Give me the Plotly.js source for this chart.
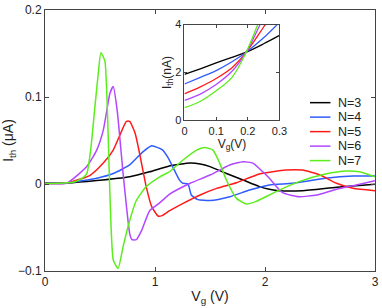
<!DOCTYPE html>
<html>
<head>
<meta charset="utf-8">
<script src="https://cdn.plot.ly/plotly-3.0.1.min.js"></script>
<style>html,body{margin:0;padding:0;background:#fff;}#chart{width:382px;height:308px;}</style>
</head>
<body>
<div id="chart"></div>
<script>
// Main panel: thermal current I_th (μA) vs gate voltage V_g (V)
const seriesNames = ["N=3", "N=4", "N=5", "N=6", "N=7"];
const seriesColors = ["#000000", "#2f5cff", "#ff1a1a", "#b247ff", "#5ced1c"];

const vgN3 = [0, 0.2, 0.47, 0.77, 0.95, 1.13, 1.32, 1.41, 1.5, 1.65, 1.8, 1.95, 2.04, 2.13, 2.34, 2.65, 3.0];
const ithN3 = [0.001, 0.0012, 0.004, 0.0084, 0.014, 0.0207, 0.024, 0.023, 0.020, 0.012, 0.0046, -0.003, -0.006, -0.0077, -0.0077, -0.0038, -0.0003];

const vgN4 = [0, 0.2, 0.47, 0.62, 0.77, 0.89, 0.97, 1.07, 1.12, 1.22, 1.25, 1.30, 1.33, 1.39, 1.5, 1.68, 1.86, 2.04, 2.25, 2.55, 2.8, 3.0];
const ithN4 = [0.0008, 0.0012, 0.0066, 0.012, 0.022, 0.037, 0.044, 0.039, 0.030, 0.005, 0.001, 0.0, -0.0126, -0.018, -0.019, -0.0146, -0.007, -0.0011, 0.0008, 0.0066, 0.0092, 0.0092];

const vgN5 = [0, 0.2, 0.41, 0.53, 0.62, 0.68, 0.74, 0.77, 0.82, 0.86, 0.92, 0.97, 1.03, 1.07, 1.13, 1.26, 1.41, 1.56, 1.74, 1.95, 2.19, 2.34, 2.5, 2.65, 2.8, 3.0];
const ithN5 = [0.0006, 0.0012, 0.010, 0.024, 0.039, 0.056, 0.072, 0.072, 0.058, 0.035, -0.003, -0.026, -0.037, -0.036, -0.031, -0.022, -0.0126, -0.005, 0.0015, 0.0115, 0.016, 0.016, 0.0103, 0.0008, -0.005, -0.0077];

const vgN6 = [0, 0.2, 0.38, 0.47, 0.53, 0.59, 0.62, 0.656, 0.71, 0.77, 0.79, 0.83, 0.88, 0.95, 1.04, 1.13, 1.32, 1.5, 1.68, 1.8, 1.89, 1.98, 2.04, 2.16, 2.31, 2.47, 2.65, 2.83, 3.0];
const ithN6 = [0.0004, 0.0012, 0.020, 0.039, 0.062, 0.104, 0.112, 0.085, 0.012, -0.057, -0.064, -0.064, -0.053, -0.031, -0.022, -0.012, 0.0008, 0.0103, 0.0218, 0.0256, 0.024, 0.014, 0.0066, -0.010, -0.0146, -0.0126, -0.006, -0.0011, 0.0038];

const vgN7 = [0, 0.25, 0.33, 0.38, 0.415, 0.454, 0.484, 0.508, 0.545, 0.62, 0.665, 0.71, 0.77, 0.83, 0.92, 1.04, 1.13, 1.255, 1.377, 1.45, 1.527, 1.588, 1.649, 1.74, 1.83, 1.92, 2.04, 2.13, 2.31, 2.55, 2.74, 2.86, 3.0];
const ithN7 = [0.0003, 0.002, 0.006, 0.012, 0.039, 0.089, 0.127, 0.151, 0.141, -0.087, -0.097, -0.072, -0.042, -0.019, -0.003, 0.008, 0.014, 0.0276, 0.039, 0.042, 0.039, 0.024, 0.0046, -0.0165, -0.023, -0.020, -0.0126, -0.007, 0.0027, 0.0115, 0.015, 0.014, 0.0084];

// Inset: I_th (nA) for small V_g
const vgInset = [0, 0.05, 0.1, 0.15, 0.195, 0.25, 0.3];
const insetN3 = [1.92, 2.15, 2.4, 2.63, 2.85, 3.2, 3.55];
const insetN4 = [1.52, 1.8, 2.08, 2.45, 2.85, 3.45, 4.1];
const insetN5 = [1.11, 1.4, 1.75, 2.2, 2.85, 3.9, 4.9];
const insetN6 = [0.84, 1.1, 1.5, 2.05, 2.85, 4.3, 5.5];
const insetN7 = [0.53, 0.8, 1.24, 1.8, 2.85, 4.6, 6.0];

const mainX = [vgN3, vgN4, vgN5, vgN6, vgN7];
const mainY = [ithN3, ithN4, ithN5, ithN6, ithN7];
const insetY = [insetN3, insetN4, insetN5, insetN6, insetN7];

const FONT = "Liberation Sans, Arial, Helvetica, sans-serif";
const TXT = "#222";
const traces = [];
for (let i = 0; i < seriesNames.length; i++) {
  traces.push({
    x: mainX[i], y: mainY[i], type: "scatter", mode: "lines",
    name: seriesNames[i], line: {color: seriesColors[i], width: 1.5, shape: "spline", smoothing: 0.5},
    xaxis: "x", yaxis: "y", hoverinfo: "skip", showlegend: false
  });
}
for (let i = 0; i < seriesNames.length; i++) {
  traces.push({
    x: vgInset, y: insetY[i], type: "scatter", mode: "lines",
    line: {color: seriesColors[i], width: 1.3, shape: "spline"},
    xaxis: "x2", yaxis: "y2", showlegend: false, hoverinfo: "skip"
  });
}

// Compact legend (line sample + label), spaced like the original figure
const shapes = [{
  type: "rect", xref: "x2 domain", yref: "y2 domain", x0: 0, x1: 1, y0: 0, y1: 1,
  fillcolor: "#fff", line: {width: 0}, layer: "below"
}];
const annotations = [];
const legTop = 0.645, legStep = 0.0555;
for (let i = 0; i < seriesNames.length; i++) {
  const yy = legTop - i * legStep;
  shapes.push({type: "line", xref: "paper", yref: "paper", x0: 0.803, x1: 0.865, y0: yy, y1: yy,
    line: {color: seriesColors[i], width: 1.5}});
  annotations.push({xref: "paper", yref: "paper", x: 0.883, y: yy, xanchor: "left", yanchor: "middle",
    text: seriesNames[i], showarrow: false, font: {family: FONT, size: 12.5, color: TXT}});
}

const axisCommon = {
  showline: true, linecolor: "#444", linewidth: 1, mirror: "ticks",
  ticks: "inside", ticklen: 4, tickcolor: "#444", tickwidth: 1,
  showgrid: false, zeroline: false,
  tickfont: {family: FONT, size: 12, color: TXT}
};

const layout = {
  width: 382, height: 308,
  margin: {l: 45, r: 7, t: 10, b: 37},
  paper_bgcolor: "#fff", plot_bgcolor: "#fff",
  font: {family: FONT, color: TXT},
  showlegend: false,
  xaxis: Object.assign({}, axisCommon, {
    range: [0, 3], tickvals: [0, 1, 2, 3], ticktext: ["0", "1", "2", "3"],
    title: {text: "V<sub>g</sub> (V)", font: {family: FONT, size: 14, color: TXT}, standoff: 2}
  }),
  yaxis: Object.assign({}, axisCommon, {
    range: [-0.1, 0.2], tickvals: [-0.1, 0, 0.1, 0.2], ticktext: ["\u22120.1", "0", "0.1", "0.2"],
    title: {text: "I<sub>th</sub> (\u03bcA)", font: {family: FONT, size: 14, color: TXT}, standoff: 6}
  }),
  xaxis2: Object.assign({}, axisCommon, {
    domain: [0.4227, 0.7106], anchor: "y2", range: [0, 0.3],
    tickvals: [0, 0.1, 0.2, 0.3], ticktext: ["0", "0.1", "0.2", "0.3"], ticklen: 3,
    tickfont: {family: FONT, size: 11, color: TXT},
    title: {text: "V<sub>g</sub>(V)", font: {family: FONT, size: 12, color: TXT}, standoff: 0}
  }),
  yaxis2: Object.assign({}, axisCommon, {
    domain: [0.577, 0.944], anchor: "x2", range: [0, 4],
    tickvals: [0, 2, 4], ticktext: ["0", "2", "4"], ticklen: 3,
    tickfont: {family: FONT, size: 11, color: TXT},
    title: {text: "I<sub>th</sub>(nA)", font: {family: FONT, size: 12, color: TXT}, standoff: 0}
  }),
  shapes: shapes,
  annotations: annotations
};

Plotly.newPlot("chart", traces, layout, {staticPlot: true, displayModeBar: false});
</script>
</body>
</html>
